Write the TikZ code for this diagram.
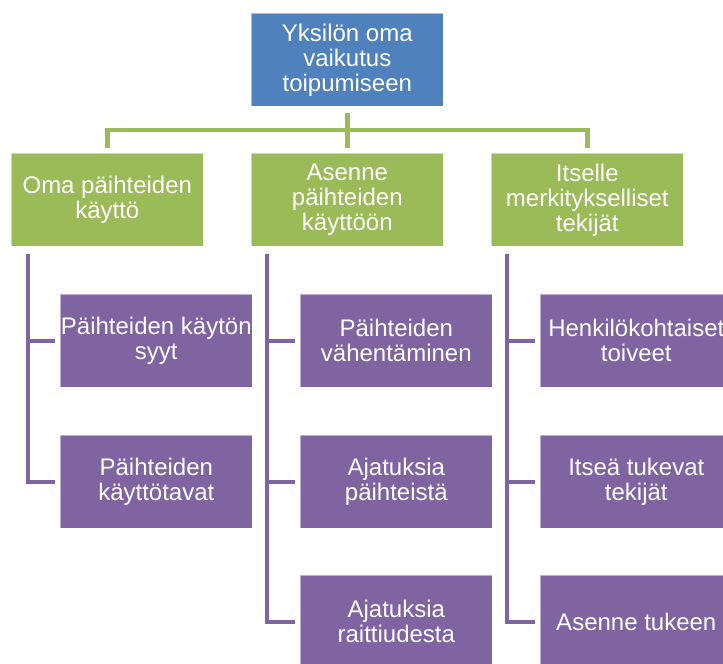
\documentclass[tikz,border=0pt]{standalone}
\usepackage{fontspec}
\setmainfont{Liberation Sans}
\usetikzlibrary{calc}
\definecolor{sablue}{HTML}{4F81BD}
\definecolor{sagreen}{HTML}{9BBB59}
\definecolor{sapurple}{HTML}{8064A2}
\begin{document}
\begin{tikzpicture}[x=1pt,y=-1pt,
  box/.style={draw=white, draw opacity=0.5, line width=0.6pt, minimum width=192pt, minimum height=93pt,
    inner sep=0pt, align=center, text=white, anchor=north west,
    font=\fontsize{24}{25}\selectfont},
  topbox/.style={box, fill=sablue},
  gbox/.style={box, fill=sagreen},
  pbox/.style={box, fill=sapurple},
  gline/.style={draw=sagreen, line width=4.8pt},
  pline/.style={draw=sapurple, line width=4.6pt}]
\useasboundingbox (0,0) rectangle (723,664);
\clip (0,0) rectangle (723,664);
\fill[white] (0,0) rectangle (723,664);

\node[topbox] (top) at (251,13) {Yksilön oma\\vaikutus\\toipumiseen};

\node[gbox] (g1) at (11,153) {Oma päihteiden\\käyttö};
\node[gbox] (g2) at (251,153) {Asenne\\päihteiden\\käyttöön};
\node[gbox] (g3) at (491,153) {Itselle\\merkitykselliset\\tekijät};

\node[pbox] (p11) at (60,294) {Päihteiden käytön\\syyt};
\node[pbox] (p12) at (60,435) {Päihteiden\\käyttötavat};
\node[pbox] (p21) at (300,294) {Päihteiden\\vähentäminen};
\node[pbox] (p22) at (300,435) {Ajatuksia\\päihteistä};
\node[pbox] (p23) at (300,575) {Ajatuksia\\raittiudesta};
\node[pbox] (p31) at (540,294) {Henkilökohtaiset\\toiveet};
\node[pbox] (p32) at (540,435) {Itseä tukevat\\tekijät};
\node[pbox] (p33) at (540,575) {Asenne tukeen};

% green connectors
\draw[gline] ($(top.south)+(0,6.5)$) -- ($(g2.north)+(0,-5)$);
\draw[gline] ($(g1.north)+(0,-5)$) |- ($(g3.north)+(0,-23)$) -- ($(g3.north)+(0,-5)$);

% purple connectors
\coordinate (v1) at ($(g1.south west)+(17,7)$);
\coordinate (v2) at ($(g2.south west)+(16,7)$);
\coordinate (v3) at ($(g3.south west)+(16,7)$);
\draw[pline] (v1) |- ($(p12.west)+(-5,0)$);
\draw[pline] (v1 |- p11.west) -- ($(p11.west)+(-5,0)$);
\draw[pline] (v2) |- ($(p23.west)+(-5,0)$);
\draw[pline] (v2 |- p21.west) -- ($(p21.west)+(-5,0)$);
\draw[pline] (v2 |- p22.west) -- ($(p22.west)+(-5,0)$);
\draw[pline] (v3) |- ($(p33.west)+(-5,0)$);
\draw[pline] (v3 |- p31.west) -- ($(p31.west)+(-5,0)$);
\draw[pline] (v3 |- p32.west) -- ($(p32.west)+(-5,0)$);
\end{tikzpicture}
\end{document}
